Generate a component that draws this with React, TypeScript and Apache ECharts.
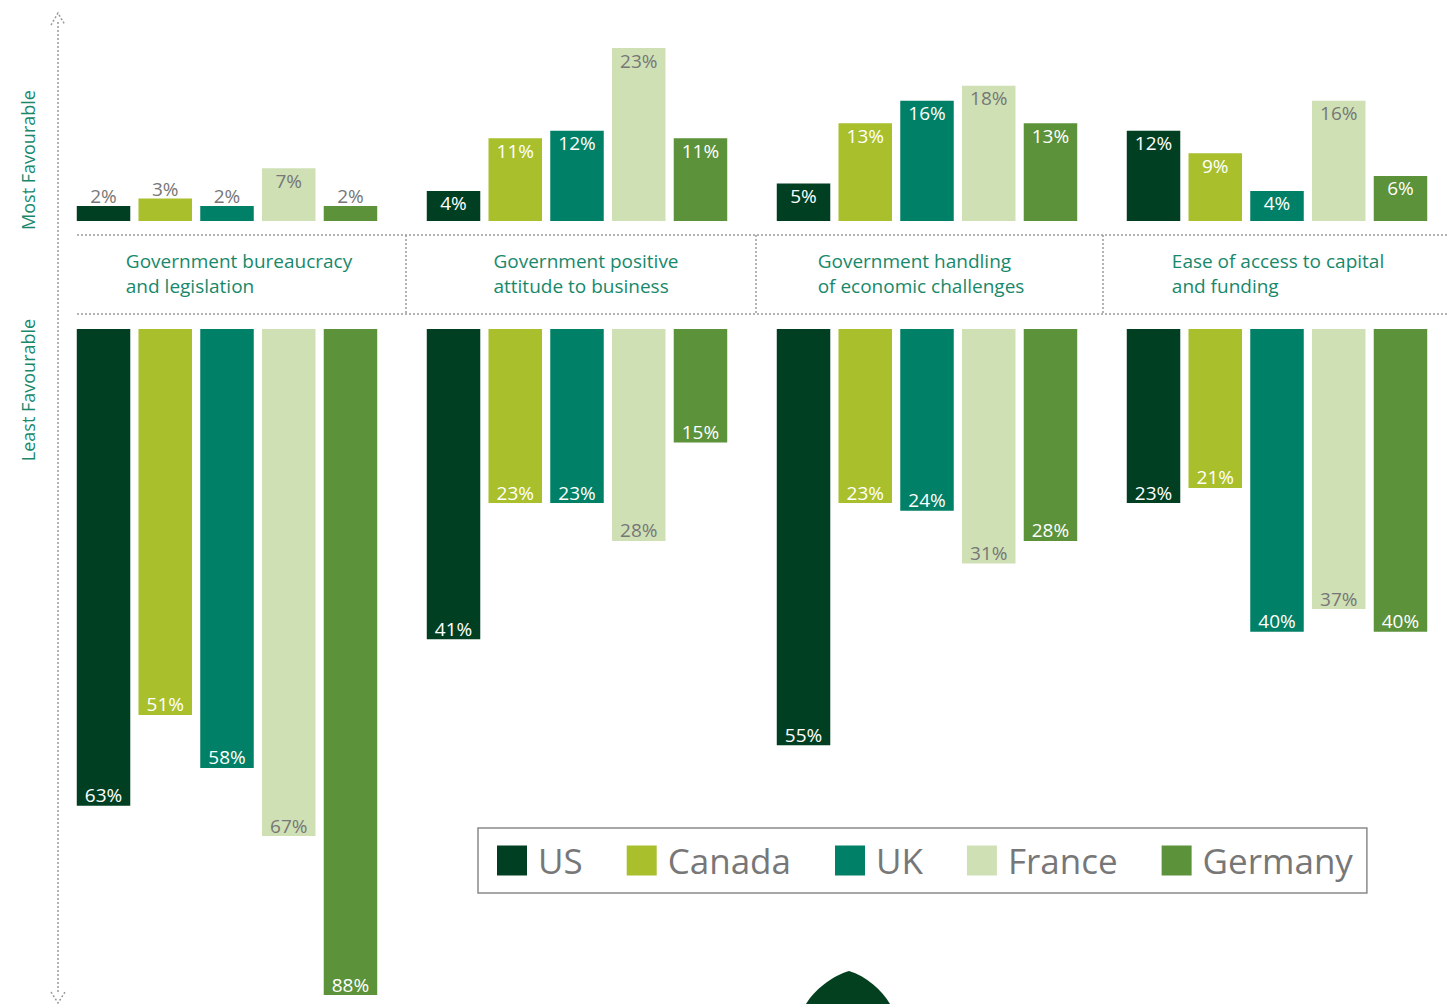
import React, { useEffect, useRef } from 'react';
import * as echarts from 'echarts';

const categories = [
  'Government bureaucracy\nand legislation',
  'Government positive\nattitude to business',
  'Government handling\nof economic challenges',
  'Ease of access to capital\nand funding',
];
const countries = ['US', 'Canada', 'UK', 'France', 'Germany'];

// Most favourable (%)
const mostUS = [2, 4, 5, 12];
const mostCanada = [3, 11, 13, 9];
const mostUK = [2, 12, 16, 4];
const mostFrance = [7, 23, 18, 16];
const mostGermany = [2, 11, 13, 6];

// Least favourable (%)
const leastUS = [63, 41, 55, 23];
const leastCanada = [51, 23, 23, 21];
const leastUK = [58, 23, 24, 40];
const leastFrance = [67, 28, 31, 37];
const leastGermany = [88, 15, 28, 40];

const sideLabels = ['Most Favourable', 'Least Favourable'];

const colors = ['#013f22', '#a9bf2c', '#008066', '#cfe0b5', '#5b923a'];
const labelColors = ['#ffffff', '#ffffff', '#ffffff', '#777777', '#ffffff'];
const FONT = 'Open Sans';
const TEAL = '#17886b';
// small horizontal nudges of each category caption (px)
const captionShift = [12, 9, -6, 1];

echarts.graphic.registerShape(
  'leaf',
  echarts.graphic.extendPath('M806,1004 C814,990 832,976 849,971 C866,976 882,990 890,1004 Z', {})
);

export default function App() {
  const ref = useRef<HTMLDivElement>(null);
  useEffect(() => {
    if (!ref.current) return;
    const chart = echarts.init(ref.current, undefined, { renderer: 'svg' });
    const most = [mostUS, mostCanada, mostUK, mostFrance, mostGermany];
    const least = [leastUS, leastCanada, leastUK, leastFrance, leastGermany];

    const topSeries = countries.map((name, i) => ({
      type: 'bar',
      name,
      xAxisIndex: 0,
      yAxisIndex: 0,
      barWidth: 53.5,
      barGap: '15.4%',
      itemStyle: { color: colors[i] },
      emphasis: { disabled: true },
      label: {
        show: true,
        position: 'insideTop',
        distance: 3,
        formatter: '{c}%',
        color: labelColors[i],
        fontSize: 19,
        fontFamily: FONT,
      },
      data: most[i].map((v) =>
        v < 4 ? { value: v, label: { position: 'top', color: '#777777', distance: 0 } } : v
      ),
    }));

    const bottomSeries = countries.map((name, i) => ({
      type: 'bar',
      name,
      xAxisIndex: 1,
      yAxisIndex: 1,
      barWidth: 53.5,
      barGap: '15.4%',
      itemStyle: { color: colors[i] },
      emphasis: { disabled: true },
      label: {
        show: true,
        position: 'insideBottom',
        distance: 1,
        formatter: '{c}%',
        color: labelColors[i],
        fontSize: 19,
        fontFamily: FONT,
      },
      data: least[i],
    }));

    const dot = { stroke: '#9a9a9a', lineWidth: 1.5, lineDash: [2, 2], fill: null };

    const rich: Record<string, any> = {};
    captionShift.forEach((dx, i) => {
      rich['l' + i] = {
        align: 'left',
        fontSize: 19,
        lineHeight: 25,
        color: TEAL,
        fontFamily: FONT,
        padding: dx >= 0 ? [0, 0, 0, dx * 2] : [0, -dx * 2, 0, 0],
      };
    });

    chart.setOption({
      animation: false,
      backgroundColor: '#ffffff',
      grid: [
        { left: 52, right: -3, top: 33, height: 188, outerBoundsMode: 'none' },
        { left: 52, right: -3, top: 329, height: 666, outerBoundsMode: 'none' },
      ],
      xAxis: [
        {
          type: 'category',
          gridIndex: 0,
          data: categories,
          axisLine: { show: false },
          axisTick: { show: false },
          axisLabel: {
            interval: 0,
            margin: 27,
            formatter: (v: string, idx: number) =>
              v.split('\n').map((s) => `{l${idx}|${s}}`).join('\n'),
            rich,
          },
        },
        {
          type: 'category',
          gridIndex: 1,
          data: categories,
          axisLine: { show: false },
          axisTick: { show: false },
          axisLabel: { show: false },
        },
      ],
      yAxis: [
        { type: 'value', gridIndex: 0, min: 0, max: 25, show: false },
        { type: 'value', gridIndex: 1, min: 0, max: 88, inverse: true, show: false },
      ],
      legend: {
        data: countries,
        left: 478,
        top: 828,
        orient: 'horizontal',
        icon: 'rect',
        itemWidth: 30,
        itemHeight: 30,
        itemGap: 44,
        selectedMode: false,
        borderColor: '#8a8a8a',
        borderWidth: 1.5,
        padding: [15, 14, 15, 19],
        textStyle: { fontSize: 35, color: '#777777', fontFamily: FONT, padding: [0, 0, 0, 6], lineHeight: 30 },
      },
      graphic: [
        { type: 'line', shape: { x1: 58, y1: 22, x2: 58, y2: 994 }, style: dot, silent: true },
        { type: 'polyline', shape: { points: [[51, 25], [58, 13], [65, 25]] }, style: dot, silent: true },
        { type: 'polyline', shape: { points: [[51, 992], [58, 1003], [65, 992]] }, style: dot, silent: true },
        { type: 'line', shape: { x1: 77, y1: 235, x2: 1449, y2: 235 }, style: dot, silent: true },
        { type: 'line', shape: { x1: 77, y1: 314, x2: 1449, y2: 314 }, style: dot, silent: true },
        { type: 'line', shape: { x1: 406, y1: 235, x2: 406, y2: 314 }, style: dot, silent: true },
        { type: 'line', shape: { x1: 756, y1: 235, x2: 756, y2: 314 }, style: dot, silent: true },
        { type: 'line', shape: { x1: 1103, y1: 235, x2: 1103, y2: 314 }, style: dot, silent: true },
        {
          type: 'text',
          x: 28,
          y: 160,
          rotation: Math.PI / 2,
          style: { text: sideLabels[0], fill: TEAL, fontSize: 18, fontFamily: FONT, align: 'center', verticalAlign: 'middle' },
        },
        {
          type: 'text',
          x: 28,
          y: 390,
          rotation: Math.PI / 2,
          style: { text: sideLabels[1], fill: TEAL, fontSize: 18, fontFamily: FONT, align: 'center', verticalAlign: 'middle' },
        },
        { type: 'leaf', x: 0, y: 0, style: { fill: '#02401f' }, silent: true },
      ],
      series: [...topSeries, ...bottomSeries],
    });
    return () => chart.dispose();
  }, []);
  return (
    <div
      ref={ref}
      style={{ position: 'fixed', left: 0, top: 0, width: 1449, height: 1004, background: '#fff' }}
    />
  );
}
